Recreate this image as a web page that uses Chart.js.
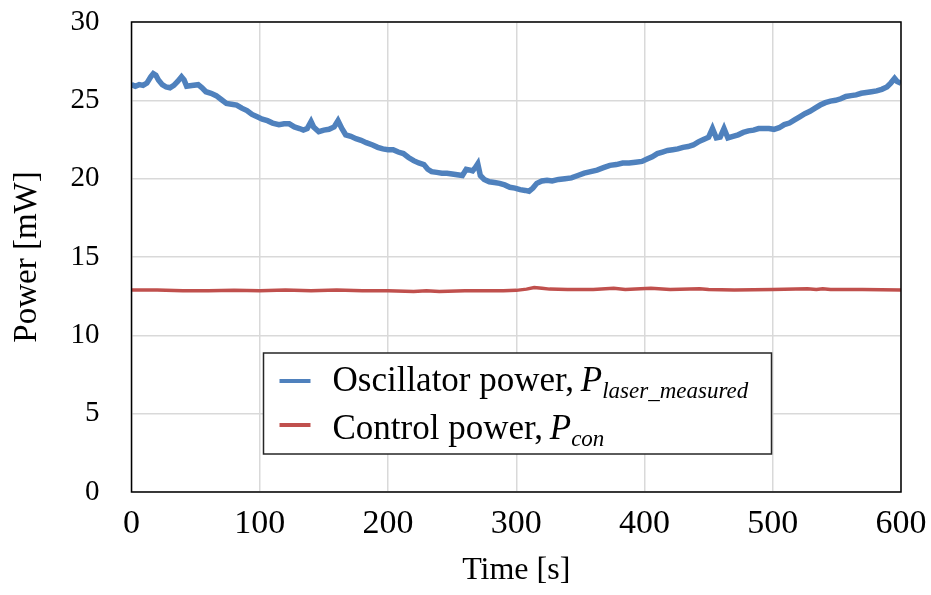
<!DOCTYPE html>
<html><head><meta charset="utf-8">
<script src="https://cdn.jsdelivr.net/npm/chart.js@4/dist/chart.umd.min.js"></script>
<style>html,body{margin:0;padding:0;background:#fff;}#wrap{width:931px;height:595px;position:relative;}</style>
</head><body><div id="wrap"><canvas id="c" width="931" height="595"></canvas></div>
<script>
// ---- data ----
const oscTime = [0,3,6,9,12,15,17,19,21,24,27,30,33,36,39,41,43,47,52,55,58,62,66,70,74,78,82,86,90,94,98,102,106,110,115,119,123,127,131,134,137,140,142,146,150,154,158,161,164,167,171,175,179,183,188,192,196,200,204,208,212,216,220,224,228,231,234,238,242,246,250,254,258,261,264,266,268,270,272,275,279,283,287,291,295,299,303,307,310,313,316,320,324,328,333,338,343,348,353,358,363,368,373,378,383,388,393,398,402,406,410,414,418,422,426,430,434,438,442,446,450,453,456,459,462,465,469,473,477,481,485,489,493,497,501,505,509,513,517,521,525,529,533,537,541,545,549,553,557,561,565,569,573,577,581,585,589,592,595,597,600];
const oscPower = [26.0,25.9,26.0,25.95,26.1,26.5,26.7,26.6,26.3,26.0,25.85,25.8,25.95,26.2,26.5,26.3,25.9,25.95,26.0,25.8,25.55,25.45,25.3,25.05,24.8,24.75,24.7,24.5,24.35,24.1,23.95,23.8,23.7,23.55,23.45,23.5,23.5,23.3,23.2,23.1,23.2,23.65,23.3,23.0,23.1,23.15,23.3,23.7,23.2,22.8,22.7,22.55,22.45,22.3,22.15,22.0,21.9,21.85,21.85,21.7,21.6,21.35,21.15,21.0,20.9,20.6,20.45,20.4,20.35,20.35,20.3,20.25,20.2,20.6,20.55,20.5,20.7,20.95,20.2,19.95,19.8,19.75,19.7,19.6,19.45,19.4,19.3,19.25,19.2,19.4,19.7,19.85,19.9,19.85,19.95,20.0,20.05,20.2,20.35,20.45,20.55,20.7,20.85,20.9,21.0,21.0,21.05,21.1,21.25,21.4,21.6,21.7,21.8,21.85,21.9,22.0,22.05,22.15,22.35,22.5,22.65,23.2,22.6,22.65,23.2,22.6,22.7,22.8,22.95,23.05,23.1,23.2,23.2,23.2,23.15,23.25,23.45,23.55,23.75,23.95,24.15,24.3,24.5,24.7,24.85,24.95,25.0,25.1,25.25,25.3,25.35,25.45,25.5,25.55,25.6,25.7,25.85,26.1,26.4,26.2,26.1];
const conTime = [0,20,40,60,80,100,120,140,160,180,200,220,230,240,260,280,290,300,308,314,320,326,340,360,376,385,405,420,443,450,470,500,527,534,539,545,570,600];
const conPower = [12.9,12.9,12.85,12.85,12.88,12.85,12.9,12.85,12.9,12.85,12.85,12.8,12.85,12.8,12.85,12.85,12.85,12.87,12.95,13.05,13.0,12.95,12.93,12.93,13.0,12.93,13.0,12.93,12.98,12.93,12.9,12.92,12.98,12.92,12.98,12.92,12.92,12.9];
const xTickValues = [0,100,200,300,400,500,600];
const yTickValues = [0,5,10,15,20,25,30];
const seriesNames = ['Oscillator power, ', 'Control power, '];
const seriesSymbol = 'P';
const seriesSubscripts = ['laser_measured', 'con'];
const xTitle = 'Time [s]';
const yTitle = 'Power [mW]';

const blue = '#4F81BD', red = '#C0504D';
const serif = '"Liberation Serif", "Times New Roman", serif';

const toXY = (xs, ys) => xs.map((x, i) => ({x, y: ys[i]}));

const frameAndLegend = {
  id: 'frameAndLegend',
  afterDatasetsDraw(chart) {
    const {ctx, chartArea: a} = chart;
    ctx.save();
    ctx.strokeStyle = '#000';
    ctx.lineWidth = 1.5;
    ctx.strokeRect(a.left, a.top, a.right - a.left, a.bottom - a.top);
    // legend box
    const L = a.left + 132, T = a.top + 331, W = 508, H = 101;
    ctx.fillStyle = '#fff';
    ctx.fillRect(L, T, W, H);
    ctx.strokeStyle = '#262626';
    ctx.lineWidth = 1.5;
    ctx.strokeRect(L, T, W, H);
    chart.data.datasets.forEach((ds, i) => {
      const ly = T + 28 + i * 44;
      ctx.strokeStyle = ds.borderColor;
      ctx.lineWidth = 4;
      ctx.beginPath(); ctx.moveTo(L + 16, ly); ctx.lineTo(L + 47, ly); ctx.stroke();
      const base = T + 38 + i * 48;
      let x = L + 69;
      ctx.fillStyle = '#000';
      ctx.textBaseline = 'alphabetic';
      ctx.textAlign = 'left';
      ctx.font = '35px ' + serif;
      ctx.fillText(seriesNames[i], x, base);
      x += ctx.measureText(seriesNames[i]).width - 2;
      ctx.font = 'italic 35px ' + serif;
      ctx.fillText(seriesSymbol, x, base);
      x += ctx.measureText(seriesSymbol).width;
      ctx.font = 'italic 23px ' + serif;
      ctx.fillText(seriesSubscripts[i], x, base + 7);
    });
    ctx.restore();
  }
};

new Chart(document.getElementById('c'), {
  type: 'line',
  data: {
    datasets: [
      {label: seriesNames[0] + seriesSymbol + seriesSubscripts[0], data: toXY(oscTime, oscPower), borderColor: blue, backgroundColor: blue, borderWidth: 5.5, pointRadius: 0, tension: 0},
      {label: seriesNames[1] + seriesSymbol + seriesSubscripts[1], data: toXY(conTime, conPower), borderColor: red, backgroundColor: red, borderWidth: 3.5, pointRadius: 0, tension: 0}
    ]
  },
  options: {
    responsive: false,
    devicePixelRatio: 1,
    animation: false,
    layout: {padding: {top: 22, right: 30, bottom: 0, left: 0}},
    plugins: {legend: {display: false}, tooltip: {enabled: false}},
    scales: {
      x: {
        type: 'linear', min: 0, max: 600,
        afterBuildTicks: s => { s.ticks = xTickValues.map(v => ({value: v})); },
        afterFit: s => { s.height = 103; s.paddingLeft = 0; s.paddingRight = 0; },
        grid: {color: '#D9D9D9', lineWidth: 1.5, drawTicks: false},
        border: {display: false},
        ticks: {color: '#000', font: {family: serif, size: 34}, padding: 12, maxRotation: 0},
        title: {display: true, text: xTitle, color: '#000', font: {family: serif, size: 32}, padding: {top: 0, bottom: 5}}
      },
      y: {
        type: 'linear', min: 0, max: 30,
        afterBuildTicks: s => { s.ticks = yTickValues.map(v => ({value: v})); },
        afterFit: s => { s.width = 131.5; s.paddingTop = 0; s.paddingBottom = 0; },
        grid: {color: '#D9D9D9', lineWidth: 1.5, drawTicks: false},
        border: {display: false},
        ticks: {color: '#000', font: {family: serif, size: 29}, padding: 32},
        title: {display: true, text: yTitle, color: '#000', font: {family: serif, size: 33}, padding: {top: 8, bottom: 0}}
      }
    }
  },
  plugins: [frameAndLegend]
});
</script></body></html>
